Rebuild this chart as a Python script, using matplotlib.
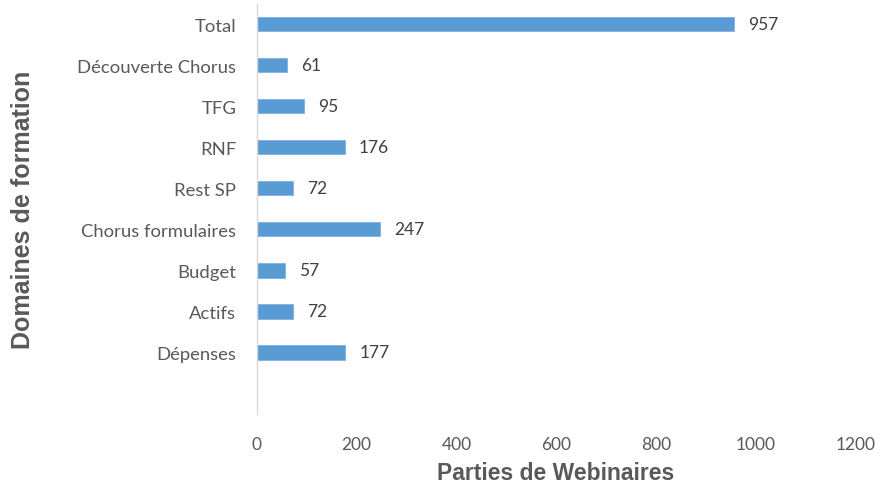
import numpy as np
import matplotlib
matplotlib.use("Agg")
import matplotlib.pyplot as plt

# categories top -> bottom, as in the chart
categories = ["Total", "Découverte Chorus", "TFG", "RNF", "Rest SP",
              "Chorus formulaires", "Budget", "Actifs", "Dépenses"]
values = [957, 61, 95, 176, 72, 247, 57, 72, 177]
xticks = [0, 200, 400, 600, 800, 1000, 1200]

bar_color = "#5b9bd5"
text_grey = "#595959"

fig = plt.figure(figsize=(8.8, 4.85), dpi=100)
ax = fig.add_axes([0.292, 0.1443, 0.680, 0.8464])

# one empty slot left below the last category
ypos = np.arange(len(categories), 0, -1)
ax.barh(ypos, values, height=0.35, color=bar_color, edgecolor="#7fb1e0", linewidth=0.6)

for y, v in zip(ypos, values):
    ax.text(v + 28, y, str(v), va="center", ha="left", fontsize=12.5,
            color="#404040", family="Lato")

ax.set_ylim(-0.5, len(categories) + 0.5)
ax.set_xlim(0, 1200)
ax.set_yticks(ypos)
ax.set_yticklabels(categories, fontsize=13.3, color=text_grey, family="Lato")
ax.set_xticks(xticks)
ax.set_xticklabels([str(t) for t in xticks], fontsize=12.5, color=text_grey, family="Lato")
ax.tick_params(axis="both", length=0)
ax.tick_params(axis="y", pad=15)
ax.tick_params(axis="x", pad=16)

for s in ["top", "right", "bottom"]:
    ax.spines[s].set_visible(False)
ax.spines["left"].set_color("#d9d9d9")
ax.spines["left"].set_linewidth(1)

ax.set_xlabel("Parties de Webinaires", fontsize=16.5, fontweight="bold",
              color=text_grey, family="Liberation Sans")
ax.set_ylabel("Domaines de formation", fontsize=18, fontweight="bold",
              color=text_grey, family="Liberation Sans")
ax.xaxis.label.set_va("center")
ax.yaxis.label.set_va("center")
ax.xaxis.set_label_coords(0.499, -0.143)
ax.yaxis.set_label_coords(-0.391, 0.5)

fig.savefig("out.png", dpi=100)
